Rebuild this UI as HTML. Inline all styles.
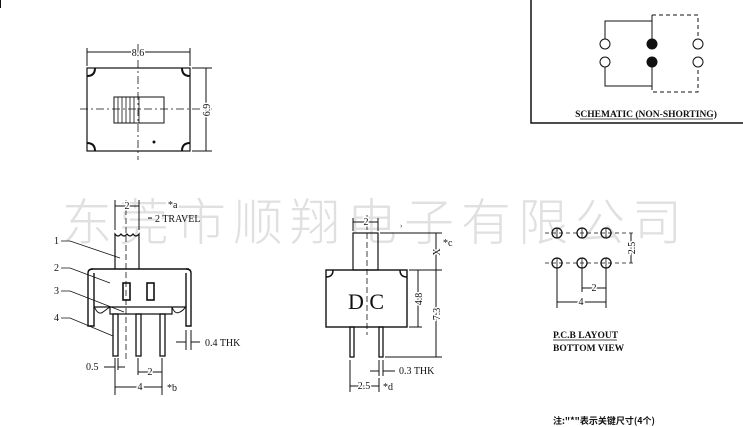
<!DOCTYPE html>
<html><head><meta charset="utf-8"><style>
html,body{margin:0;padding:0;background:#fff;width:743px;height:427px;overflow:hidden}
svg{display:block}
text{font-family:"Liberation Serif","Noto Serif CJK SC",serif;fill:#111;font-size:10px}
text.d{stroke:#fff;stroke-width:3px;paint-order:stroke}
</style></head><body>
<svg width="743" height="427" viewBox="0 0 743 427" xmlns="http://www.w3.org/2000/svg" stroke="#111" fill="none" stroke-width="1">
<!-- watermark -->
<text x="62" y="240" stroke="none" style="fill:#e0e0e0;font-family:'Noto Sans CJK SC',sans-serif;font-weight:300;font-size:50px" textLength="620">东莞市顺翔电子有限公司</text>
<line x1="0" y1="0" x2="0" y2="8" stroke-width="2"/>

<!-- schematic box -->
<path d="M531 0 V123 H743" stroke-width="1.5"/>
<circle cx="605" cy="44" r="5"/><circle cx="605" cy="62" r="5"/>
<circle cx="652" cy="44" r="5" fill="#111"/><circle cx="652" cy="62" r="5" fill="#111"/>
<circle cx="698" cy="44" r="5"/><circle cx="698" cy="62" r="5"/>
<path d="M605 39 V21 H652 V39 M605 67 V86 H652 V67"/>
<path d="M652 15 H698 V39 M652 86 V92 H698 V67" stroke-dasharray="4,3"/>
<line x1="652" y1="15" x2="652" y2="21"/>
<text x="646" y="117" text-anchor="middle" stroke="none" style="font-size:9.5px;font-weight:bold">SCHEMATIC (NON-SHORTING)</text>
<line x1="580" y1="119" x2="713" y2="119" stroke-width="0.8"/>

<!-- top view -->
<rect x="87" y="68" width="103" height="83" stroke-width="1.2"/>
<path d="M87 76 q8 0 8 -8 M190 76 q-8 0 -8 -8 M87 143 q8 0 8 8 M190 143 q-8 0 -8 8" stroke-width="2"/>
<rect x="114" y="97" width="50" height="26"/>
<g stroke-width="0.8"><line x1="118" y1="97" x2="118" y2="123"/><line x1="122" y1="97" x2="122" y2="123"/><line x1="126" y1="97" x2="126" y2="123"/><line x1="130" y1="97" x2="130" y2="123"/><line x1="134" y1="97" x2="134" y2="123"/><line x1="139" y1="97" x2="139" y2="123"/></g>
<line x1="80" y1="109" x2="212" y2="109" stroke-dasharray="8,3,2,3" stroke-width="0.8"/>
<line x1="138" y1="44" x2="138" y2="160" stroke-dasharray="8,3,2,3" stroke-width="0.8"/>
<path d="M87 48 V66 M190 48 V66 M87 52 H190 M192 68 H212 M192 151 H212 M206 68 V151"/>
<text class="d" x="138" y="56" text-anchor="middle">8.6</text>
<text class="d" x="0" y="0" transform="translate(210,110) rotate(-90)" text-anchor="middle">6.9</text>
<circle cx="154" cy="142" r="1" fill="#111"/>

<!-- side view -->
<path d="M115 269 V234 q3 4 6 0 q3 4 6 0 q3 4 6 0 q3 4 6 0 V269" stroke-width="1.2"/>
<line x1="126" y1="200" x2="126" y2="360" stroke-dasharray="6,3" stroke-width="0.8"/>
<path d="M91 269 H189 M88 273 V326 H94 V273 M186 273 V326 H191 V273" stroke-width="1.4"/>
<path d="M88 273 q0 -4 5 -4 M191 273 q0 -4 -5 -4" stroke-width="1.4"/>
<path d="M94 307 H186 M110 307 V314 H172 V307" stroke-width="1.2"/>
<path d="M94 306 q4 10 9 6 q4 -3 7 -5 M172 307 q3 8 8 5 q4 -2 6 -6"/>
<rect x="123" y="283" width="7" height="17" stroke-width="1.6"/>
<rect x="147" y="283" width="7" height="17" stroke-width="1.6"/>
<g stroke-width="1.3"><rect x="113" y="314" width="5" height="42"/><rect x="136" y="314" width="5" height="42"/><rect x="160" y="314" width="5" height="42"/></g>
<path d="M115 200 V230 M139 200 V230 M115 206 H139 M148 218 H152"/>
<text class="d" x="127" y="209" text-anchor="middle">2</text>
<text x="168" y="208" stroke="none">*a</text>
<text x="155" y="222" stroke="none">2 TRAVEL</text>
<g stroke="none"><text x="54" y="244">1</text><text x="54" y="271">2</text><text x="54" y="294">3</text><text x="54" y="321">4</text></g>
<path d="M61 241 H70 L120 258 M61 268 H70 L110 283 M61 291 H70 L124 312 M61 318 H70 L113 336" stroke-width="0.8"/>
<path d="M186 330 V350 M191 330 V350 M176 342 H186 M191 342 H200"/>
<text x="205" y="346" stroke="none">0.4 THK</text>
<path d="M115 358 V395 M118 358 V370 M162 358 V395 M138 358 V375 M104 367 H115 M118 367 H125 M138 372 H162 M115 387 H162"/>
<text x="86" y="370" stroke="none">0.5</text>
<text class="d" x="150" y="375" text-anchor="middle">2</text>
<text class="d" x="140" y="390" text-anchor="middle">4</text>
<text x="167" y="391" stroke="none">*b</text>

<!-- front view -->
<rect x="353" y="233" width="25" height="37" stroke-width="1.2"/>
<rect x="326" y="270" width="81" height="57" stroke-width="1.4"/>
<path d="M326 277 q7 0 7 -7 M407 277 q-7 0 -7 -7" stroke-width="1.5"/>
<line x1="367" y1="215" x2="367" y2="335" stroke-dasharray="6,3" stroke-width="0.8"/>
<g stroke-width="1.3"><rect x="350" y="327" width="4" height="30"/><rect x="379" y="327" width="4" height="30"/></g>
<text x="366" y="309" text-anchor="middle" stroke="none" style="font-size:22px">D C</text>
<path d="M353 218 V231 M378 218 V231 M353 222 H378 M380 233 H442 M409 270 H442 M409 327 H422 M385 357 H442 M436 233 V357 M418 270 V327"/>
<text class="d" x="366" y="225" text-anchor="middle">2</text>
<text x="400" y="228" stroke="none" style="font-size:7px">›</text>
<text class="d" x="0" y="0" transform="translate(440,252) rotate(-90)" text-anchor="middle">X</text>
<text x="443" y="246" stroke="none">*c</text>
<text class="d" x="0" y="0" transform="translate(422,299) rotate(-90)" text-anchor="middle">4.8</text>
<text class="d" x="0" y="0" transform="translate(440,314) rotate(-90)" text-anchor="middle">7.3</text>
<path d="M350 360 V392 M379 360 V376 M383 360 V376 M370 371 H379 M383 371 H395 M350 386 H379 M379 378 V392"/>
<text x="399" y="374" stroke="none">0.3 THK</text>
<text class="d" x="364" y="389" text-anchor="middle">2.5</text>
<text x="383" y="390" stroke="none">*d</text>

<!-- PCB layout -->
<g stroke-width="1.3">
<circle cx="557" cy="233" r="5"/><circle cx="582" cy="233" r="5"/><circle cx="606" cy="233" r="5"/>
<circle cx="557" cy="263" r="5"/><circle cx="582" cy="263" r="5"/><circle cx="606" cy="263" r="5"/>
</g>
<path d="M545 233 H636 M545 263 H636" stroke-dasharray="4,3" stroke-width="0.8"/>
<path d="M557 228 V238 M582 228 V238 M606 228 V238 M557 258 V268 M582 258 V268 M606 258 V268" stroke-width="0.8"/>
<path d="M557 268 V308 M582 268 V292 M606 268 V308 M582 288 H606 M557 302 H606 M631 233 V263"/>
<text class="d" x="594" y="291" text-anchor="middle">2</text>
<text class="d" x="581" y="305" text-anchor="middle">4</text>
<text class="d" x="0" y="0" transform="translate(635,248) rotate(-90)" text-anchor="middle">2.5</text>
<text x="553" y="338" stroke="none" style="font-weight:bold;font-size:9.5px">P.C.B LAYOUT</text>
<line x1="553" y1="340" x2="617" y2="340" stroke-width="0.8"/>
<text x="553" y="351" stroke="none" style="font-weight:bold;font-size:9.5px">BOTTOM VIEW</text>
<text x="553" y="424" stroke="none" style="font-family:'Noto Sans CJK SC',sans-serif;font-weight:bold;font-size:9px">注:"*"表示关键尺寸(4个)</text>
</svg>
</body></html>
